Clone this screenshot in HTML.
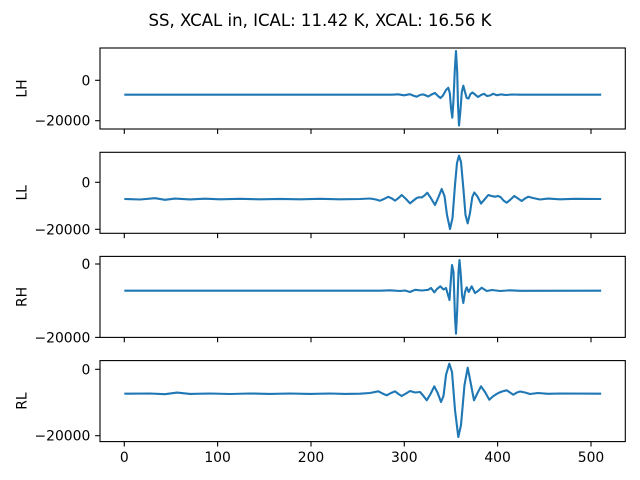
<!DOCTYPE html>
<html>
<head>
<meta charset="utf-8">
<style>
html,body{margin:0;padding:0;background:#fff;}
svg{display:block;}
text{font-family:"DejaVu Sans","Liberation Sans",sans-serif;fill:#000;}
.t{font-size:13.9px;}
.ln{fill:none;stroke:#1f77b4;stroke-width:2.1;stroke-linejoin:round;stroke-linecap:butt;}
.sp{fill:none;stroke:#000;stroke-width:1.1;}
.tk{stroke:#000;stroke-width:1.1;}
</style>
</head>
<body>
<svg width="640" height="480" viewBox="0 0 640 480" xmlns="http://www.w3.org/2000/svg">
<rect width="640" height="480" fill="#fff"/>
<text x="320" y="26" font-size="16.7" text-anchor="middle" textLength="343" lengthAdjust="spacingAndGlyphs">SS, XCAL in, ICAL: 11.42 K, XCAL: 16.56 K</text>

<!-- Panel 1 LH -->
<path class="ln" d="M124.3,94.7 L392,94.7 L398,94.3 L404,95.3 L410,94.2 L413,95.5 L416.7,96.7 L420,95 L423,94.4 L426,95.5 L428.3,96.5 L431.5,94.5 L435,93 L438,96 L440.5,98 L443,95.5 L446,90 L448.3,87.8 L449.8,93 L451,108 L452.3,117.7 L453.5,100 L454.8,70 L456,51 L457.2,72 L458,105 L459,125.5 L460.3,112 L461.8,92 L463.3,85.7 L465,92 L466.7,98 L468.5,98.5 L470.5,94 L472.5,92.5 L475,94.5 L478,97 L481,95 L484,93.8 L487,96 L490,95.5 L493,93.8 L497,95.2 L501,94.4 L506,95 L512,94.5 L520,94.7 L601.2,94.7"/>
<rect class="sp" x="100" y="48" width="525.3" height="81"/>
<line class="tk" x1="95.1" y1="80.3" x2="100" y2="80.3"/>
<line class="tk" x1="95.1" y1="120.7" x2="100" y2="120.7"/>
<text class="t" x="90.3" y="85.3" text-anchor="end">0</text>
<text class="t" x="90.3" y="125.7" text-anchor="end">−20000</text>
<text class="t" x="26.3" y="88.5" text-anchor="middle" transform="rotate(-90 26.3 88.5)">LH</text>
<g class="tk">
<line x1="124.3" y1="129" x2="124.3" y2="133.9"/><line x1="217.6" y1="129" x2="217.6" y2="133.9"/><line x1="311" y1="129" x2="311" y2="133.9"/><line x1="404.3" y1="129" x2="404.3" y2="133.9"/><line x1="497.6" y1="129" x2="497.6" y2="133.9"/><line x1="591" y1="129" x2="591" y2="133.9"/>
</g>

<!-- Panel 2 LL -->
<path class="ln" d="M124.3,199 L140,199.5 L155,198.2 L165,199.8 L175,198.6 L190,199.4 L205,198.7 L220,199.3 L240,198.8 L260,199.3 L280,198.9 L300,199.3 L320,198.8 L340,199.3 L360,199 L370,198.5 L376,199.5 L380,200.7 L384,199 L388.3,196.8 L392,198.5 L395,200.7 L398.5,198 L401.7,195 L405.5,198.5 L410,203.3 L413.5,200.5 L416.7,198 L419,197.3 L421.7,197.5 L424.5,195.5 L427.3,192.7 L430.5,197.5 L435,205 L438.5,197 L441.7,189 L444.5,196 L447,215 L450,229 L452.5,218 L455,185 L457,163 L459,155.7 L461,162 L463.5,190 L465.5,215 L467.7,223.3 L470,213 L472.3,197 L474.3,192.5 L477.5,196.5 L481,203.5 L484.5,199.5 L488.3,195 L491.5,196 L495,196.7 L498,196 L500.5,197 L503.5,200.5 L506.7,202.7 L510,200 L514.3,196 L518,198.5 L521.7,201 L525,198.5 L528.3,196.7 L533,198 L540,199.5 L548,198.6 L560,199.3 L575,198.8 L601.2,199"/>
<rect class="sp" x="100" y="152.3" width="525.3" height="81"/>
<line class="tk" x1="95.1" y1="182.3" x2="100" y2="182.3"/>
<line class="tk" x1="95.1" y1="229.3" x2="100" y2="229.3"/>
<text class="t" x="90.3" y="187.3" text-anchor="end">0</text>
<text class="t" x="90.3" y="234.3" text-anchor="end">−20000</text>
<text class="t" x="26.3" y="192.8" text-anchor="middle" transform="rotate(-90 26.3 192.8)">LL</text>
<g class="tk">
<line x1="124.3" y1="233.3" x2="124.3" y2="238.2"/><line x1="217.6" y1="233.3" x2="217.6" y2="238.2"/><line x1="311" y1="233.3" x2="311" y2="238.2"/><line x1="404.3" y1="233.3" x2="404.3" y2="238.2"/><line x1="497.6" y1="233.3" x2="497.6" y2="238.2"/><line x1="591" y1="233.3" x2="591" y2="238.2"/>
</g>

<!-- Panel 3 RH -->
<path class="ln" d="M124.3,290.7 L380,290.7 L390,290.3 L400,291 L405,290.5 L410,292 L415,289.8 L422,290.5 L428.3,289.8 L431,288 L434.3,292.3 L437,289 L440.3,286.3 L443.5,289.5 L446,288 L448,295 L449.5,300 L450.5,285 L452,265 L453.5,272 L455,318 L456,333.7 L457.2,310 L458.5,272 L459.5,260 L460.8,275 L462,295 L463.3,303 L465,292 L466.7,287.3 L468.7,292 L471.7,286.3 L475,293 L478,291 L481.7,287.7 L486.7,291 L492,290 L500,291 L510,290.3 L520,290.8 L601.2,290.7"/>
<rect class="sp" x="100" y="256.4" width="525.3" height="81"/>
<line class="tk" x1="95.1" y1="264" x2="100" y2="264"/>
<line class="tk" x1="95.1" y1="337.4" x2="100" y2="337.4"/>
<text class="t" x="90.3" y="269" text-anchor="end">0</text>
<text class="t" x="90.3" y="342.4" text-anchor="end">−20000</text>
<text class="t" x="26.3" y="296.9" text-anchor="middle" transform="rotate(-90 26.3 296.9)">RH</text>
<g class="tk">
<line x1="124.3" y1="337.4" x2="124.3" y2="342.3"/><line x1="217.6" y1="337.4" x2="217.6" y2="342.3"/><line x1="311" y1="337.4" x2="311" y2="342.3"/><line x1="404.3" y1="337.4" x2="404.3" y2="342.3"/><line x1="497.6" y1="337.4" x2="497.6" y2="342.3"/><line x1="591" y1="337.4" x2="591" y2="342.3"/>
</g>

<!-- Panel 4 RL -->
<path class="ln" d="M124.3,393.7 L150,393.5 L165,394.2 L177,392.6 L190,393.9 L210,393.5 L230,394 L250,393.5 L270,393.9 L290,393.5 L310,393.9 L330,393.5 L345,393.9 L360,393.7 L370,393 L378.3,391.3 L382.5,393.5 L386.7,395.3 L391,393 L395,391.3 L398.5,394 L401.7,396 L406,393.5 L410,391 L415,392.5 L420,392 L423.5,396 L426.7,400.3 L430.5,394 L434.3,386.3 L437.7,393 L441,402 L443.5,396 L446,375 L449.3,363.7 L452,372 L455,410 L458.3,437 L461,425 L464.5,385 L467.7,367.7 L470.5,382 L474,400.3 L477.5,393 L481,386.3 L485,392 L489.3,399.7 L493.5,396 L498.3,393 L502,391.5 L506.7,390.3 L510,392.5 L513.3,394.7 L517,392.5 L520,391.5 L525,392.5 L530,394 L538,393 L548,393.8 L560,393.5 L601.2,393.7"/>
<rect class="sp" x="100" y="360.6" width="525.3" height="81"/>
<line class="tk" x1="95.1" y1="369.3" x2="100" y2="369.3"/>
<line class="tk" x1="95.1" y1="435.7" x2="100" y2="435.7"/>
<text class="t" x="90.3" y="374.3" text-anchor="end">0</text>
<text class="t" x="90.3" y="440.7" text-anchor="end">−20000</text>
<text class="t" x="26.3" y="401.1" text-anchor="middle" transform="rotate(-90 26.3 401.1)">RL</text>
<g class="tk">
<line x1="124.3" y1="441.6" x2="124.3" y2="446.5"/><line x1="217.6" y1="441.6" x2="217.6" y2="446.5"/><line x1="311" y1="441.6" x2="311" y2="446.5"/><line x1="404.3" y1="441.6" x2="404.3" y2="446.5"/><line x1="497.6" y1="441.6" x2="497.6" y2="446.5"/><line x1="591" y1="441.6" x2="591" y2="446.5"/>
</g>
<text class="t" x="124.3" y="462" text-anchor="middle">0</text>
<text class="t" x="217.6" y="462" text-anchor="middle">100</text>
<text class="t" x="311" y="462" text-anchor="middle">200</text>
<text class="t" x="404.3" y="462" text-anchor="middle">300</text>
<text class="t" x="497.6" y="462" text-anchor="middle">400</text>
<text class="t" x="591" y="462" text-anchor="middle">500</text>
</svg>
</body>
</html>
